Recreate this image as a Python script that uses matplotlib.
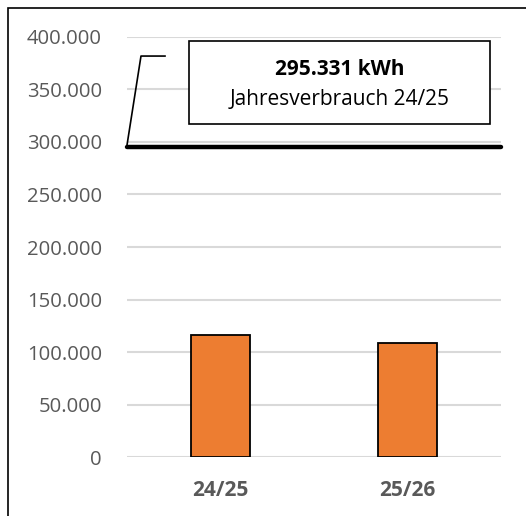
import numpy as np
import matplotlib
matplotlib.use("Agg")
import matplotlib.pyplot as plt
from matplotlib.patches import Rectangle

# data
seasons = ["24/25", "25/26"]
consumption = [116600, 108500]
annual_24_25 = 295331
yticks = np.arange(0, 400001, 50000)

plt.rcParams['font.family'] = ['Open Sans', 'DejaVu Sans']

W, H = 526, 516
fig = plt.figure(figsize=(W / 100, H / 100), dpi=100)

# outer chart frame (cut off on right and bottom like the screenshot)
fig.patches.append(Rectangle((8 / W, -0.1), 1.2, 1 - 8 / H + 0.1, transform=fig.transFigure,
                             fill=False, edgecolor="#000000", linewidth=1.2))

ax = fig.add_axes([127 / W, (H - 457.4) / H, 374 / W, (457.4 - 36.7) / H])
x = np.arange(len(seasons))
ax.bar(x, consumption, width=0.32, color="#ed7d31", edgecolor="black", linewidth=1.3, zorder=3)
ax.set_xlim(-0.5, 1.5)
ax.set_ylim(0, 400000)
ax.set_yticks(yticks)
ax.set_yticklabels([f"{v:,.0f}".replace(",", ".") for v in yticks])
ax.set_xticks(x)
ax.set_xticklabels(seasons, fontweight="bold")
ax.tick_params(axis="y", length=0, pad=18, labelsize=14.6, labelcolor="#595959")
ax.tick_params(axis="x", length=0, pad=16, labelsize=15, labelcolor="#595959")
ax.yaxis.grid(True, color="#d9d9d9", linewidth=1.5, zorder=0)
for s in ax.spines.values():
    s.set_visible(False)

# annual consumption line
ax.plot([-0.5, 1.5], [annual_24_25, annual_24_25], color="black", linewidth=3.2,
        solid_capstyle="round", zorder=4, clip_on=False)

# callout leader
ax.plot([0.0, 0.0374, 0.1016], [(annual_24_25 / 400000) + 0.004, 0.954, 0.954],
        transform=ax.transAxes, color="black", linewidth=1.2, clip_on=False, zorder=5)

# callout box
ax.add_patch(Rectangle((0.166, 0.7925), 0.971 - 0.166, 0.990 - 0.7925, transform=ax.transAxes,
                       facecolor="white", edgecolor="black", linewidth=1.2, zorder=5, clip_on=False))
label = f"{annual_24_25:,.0f}".replace(",", ".") + " kWh"
ax.text(0.568, 0.921, label, transform=ax.transAxes, ha="center", va="center",
        fontsize=15, fontweight="bold", color="black", zorder=6)
ax.text(0.568, 0.850, "Jahresverbrauch 24/25", transform=ax.transAxes, ha="center", va="center",
        fontsize=15, color="black", zorder=6)

fig.savefig("out.png", dpi=100)
